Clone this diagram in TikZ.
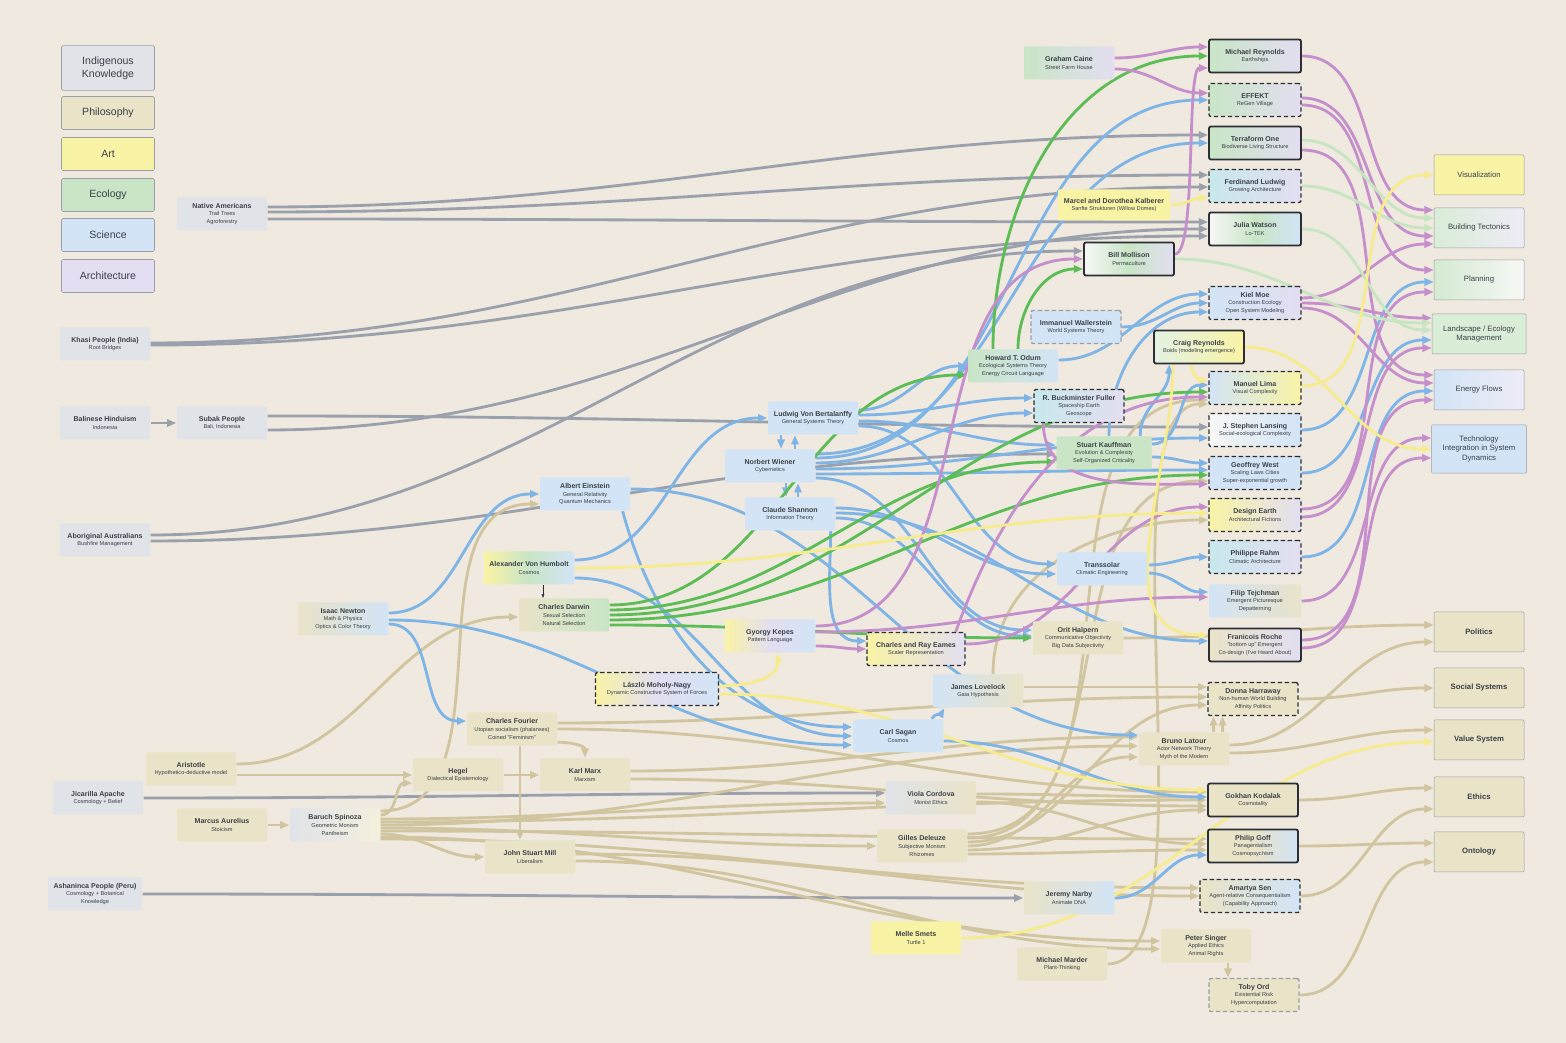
\documentclass[tikz,border=0pt]{standalone}
\usepackage{fontspec}
\setmainfont{Liberation Sans}
\usetikzlibrary{arrows.meta,calc}

\definecolor{paper}{HTML}{EFE9DF}
\definecolor{cind}{HTML}{E0E3E8}
\definecolor{cphil}{HTML}{E9E3C8}
\definecolor{ccream}{HTML}{F4F0DE}
\definecolor{cart}{HTML}{F9F3A5}
\definecolor{ceco}{HTML}{C9E5C6}
\definecolor{csci}{HTML}{D2E4F6}
\definecolor{carch}{HTML}{E3DEF1}
\definecolor{cteal}{HTML}{C8E8EC}
\definecolor{cwhite}{HTML}{F7F7F5}
\definecolor{ctext}{HTML}{3B4048}
\definecolor{cdark}{HTML}{2B2F35}
\definecolor{clegend}{HTML}{9A9EA6}
\definecolor{egrey}{HTML}{9BA1AC}
\definecolor{etan}{HTML}{D1C5A0}
\definecolor{eyel}{HTML}{F6EC8E}
\definecolor{egreen}{HTML}{5CBD56}
\definecolor{eblue}{HTML}{7EB4E6}
\definecolor{epurp}{HTML}{C58FCC}
\definecolor{elgreen}{HTML}{C6E5C0}

\newcommand{\ntitle}[1]{{\fontsize{2.11}{2.42}\selectfont\bfseries #1}}

\pgfdeclarelayer{paperlayer}
\pgfdeclarelayer{edgelayer}
\pgfsetlayers{paperlayer,edgelayer,main}

% 1 unit = 1 px of the reference (0.3pt)
\tikzset{
  box/.style={rectangle, minimum width=27pt, minimum height=9.9pt, inner sep=0.2pt,
    align=center, text=ctext, font=\fontsize{1.69}{2.28}\selectfont, rounded corners=0.3pt},
  ind/.style={box, fill=cind},
  phil/.style={box, fill=cphil},
  art/.style={box, fill=cart},
  eco/.style={box, fill=ceco},
  sci/.style={box, fill=csci},
  solidb/.style={draw=cdark, line width=0.55pt, rounded corners=0.6pt},
  dashb/.style={draw=cdark, line width=0.4pt, dash pattern=on 1.3pt off 0.8pt, rounded corners=0.6pt},
  legend/.style={rectangle, draw=clegend, line width=0.2pt, rounded corners=0.45pt,
    minimum width=27.9pt, minimum height=9.9pt, align=center, text=ctext,
    font=\fontsize{3.16}{3.8}\selectfont},
  goal/.style={rectangle, draw=clegend, line width=0.15pt, rounded corners=0.3pt,
    minimum width=27pt, minimum height=12pt, align=center, text=ctext,
    font=\fontsize{2.32}{2.85}\selectfont},
  pgoal/.style={goal, fill=cphil, font=\fontsize{2.32}{2.85}\selectfont\bfseries},
  conn/.style={-{Triangle[length=2.8pt,width=2.2pt]}, line width=0.85pt, out=0, in=180},
  gy/.style={conn, draw=egrey},
  tn/.style={conn, draw=etan},
  yl/.style={conn, draw=eyel},
  gn/.style={conn, draw=egreen},
  bl/.style={conn, draw=eblue},
  pu/.style={conn, draw=epurp},
  lg/.style={conn, draw=elgreen}
}

\begin{document}
\begin{tikzpicture}[x=0.3pt, y=-0.3pt]
\useasboundingbox (0,0) rectangle (1566,1043);
\begin{pgfonlayer}{paperlayer}
\fill[paper] (0,0) rectangle (1566,1043);
\end{pgfonlayer}

% legend
\node (lgind)  [legend, fill=cind, minimum height=13.2pt] at (108,68) {Indigenous\\Knowledge};
\node (lgphil) [legend, fill=cphil] at (108,113) {Philosophy};
\node (lgart)  [legend, fill=cart] at (108,154) {Art};
\node (lgeco)  [legend, fill=ceco] at (108,195) {Ecology};
\node (lgsci)  [legend, fill=csci] at (108,235) {Science};
\node (lgarch) [legend, fill=carch] at (108,276) {Architecture};

% indigenous knowledge
\node (natam) [ind] at (222,214) {\ntitle{Native Americans}\\Trail Trees\\Agroforestry};
\node (khasi) [ind] at (105,344) {\ntitle{Khasi People (India)}\\Root Bridges};
\node (balin) [ind] at (105,423) {\ntitle{Balinese Hinduism}\\Indonesia};
\node (subak) [ind] at (222,423) {\ntitle{Subak People}\\Bali, Indonesia};
\node (abor) [ind] at (105,540) {\ntitle{Aboriginal Australians}\\Bushfire Management};
\node (jicar) [ind] at (98,798) {\ntitle{Jicarilla Apache}\\Cosmology + Belief};
\node (ashan) [ind, minimum width=28.2pt] at (95,894) {\ntitle{Ashaninca People (Peru)}\\Cosmology + Botanical\\Knowledge};

% philosophy
\node (arist) [phil] at (191,769) {\ntitle{Aristotle}\\Hypothetico-deductive model};
\node (marcus) [phil] at (222,825) {\ntitle{Marcus Aurelius}\\Stoicism};
\node (spin) [box, left color=cind, right color=ccream] at (335,825) {\ntitle{Baruch Spinoza}\\Geometric Monism\\Pantheism};
\node (hegel) [phil] at (458,775) {\ntitle{Hegel}\\Dialectical Epistemology};
\node (marx) [phil] at (585,775) {\ntitle{Karl Marx}\\Marxism};
\node (fourier) [phil] at (512,729) {\ntitle{Charles Fourier}\\Utopian socialism (phalanxes)\\Coined "Feminism"};
\node (mill) [phil] at (530,857) {\ntitle{John Stuart Mill}\\Liberalism};
\node (cordova) [box, left color=cind, right color=cphil] at (931,798) {\ntitle{Viola Cordova}\\Monist Ethics};
\node (deleuze) [phil] at (922,846) {\ntitle{Gilles Deleuze}\\Subjective Monism\\Rhizomes};
\node (lovelock) [box, left color=csci, right color=cphil] at (978,691) {\ntitle{James Lovelock}\\Gaia Hypothesis};
\node (latour) [phil] at (1184,749) {\ntitle{Bruno Latour}\\Actor Network Theory\\Myth of the Modern};
\node (harr) [phil, dashb] at (1253,699) {\ntitle{Donna Harraway}\\Non-human World Building\\Affinity Politics};
\node (kodalak) [phil, solidb] at (1253,800) {\ntitle{Gokhan Kodalak}\\Cosmotality};
\node (goff) [box, solidb, left color=cphil, right color=csci, middle color=cphil] at (1253,846) {\ntitle{Philip Goff}\\Panagentialism\\Cosmopsychism};
\node (sen) [box, dashb, left color=cphil, right color=csci, minimum width=30pt] at (1250,896) {\ntitle{Amartya Sen}\\Agent-relative Consequentialism\\(Capability Approach)};
\node (narby) [box, left color=cphil, right color=csci] at (1069,898) {\ntitle{Jeremy Narby}\\Animate DNA};
\node (singer) [phil] at (1206,946) {\ntitle{Peter Singer}\\Applied Ethics\\Animal Rights};
\node (marder) [phil] at (1062,964) {\ntitle{Michael Marder}\\Plant-Thinking};
\node (ord) [phil, dashb, draw=clegend] at (1254,995) {\ntitle{Toby Ord}\\Existential Risk\\Hypercomputation};
\node (halpern) [phil] at (1078,638) {\ntitle{Orit Halpern}\\Communicative Objectivity\\Big Data Subjectivity};

% art
\node (melle) [art] at (916,938) {\ntitle{Melle Smets}\\Turtle 1};
\node (kalb) [art, minimum width=33.6pt, minimum height=9.3pt] at (1114,205) {\ntitle{Marcel and Dorothea Kalberer}\\Sanfte Strukturen (Willow Domes)};
\node (kepes) [box, left color=cart, right color=csci, middle color=carch] at (770,636) {\ntitle{Gyorgy Kepes}\\Pattern Language};
\node (moholy) [box, dashb, left color=cart, right color=csci, middle color=carch, minimum width=36.9pt] at (657,689) {\ntitle{László Moholy-Nagy}\\Dynamic Constructive System of Forces};
\node (eames) [box, dashb, left color=cart, right color=carch, minimum width=29.4pt] at (916,649) {\ntitle{Charles and Ray Eames}\\Scaler Representation};
\node (humb) [box, left color=cart, right color=csci, middle color=ceco] at (529,568) {\ntitle{Alexander Von Humbolt}\\Cosmos};

% science
\node (newton) [box, left color=cphil, right color=csci] at (343,619) {\ntitle{Isaac Newton}\\Math \& Physics\\Optics \& Color Theory};
\node (einst) [sci] at (585,494) {\ntitle{Albert Einstein}\\General Relativity\\Quantum Mechanics};
\node (bert) [sci] at (813,418) {\ntitle{Ludwig Von Bertalanffy}\\General Systems Theory};
\node (wiener) [sci] at (770,466) {\ntitle{Norbert Wiener}\\Cybernetics};
\node (shannon) [sci] at (790,514) {\ntitle{Claude Shannon}\\Information Theory};
\node (sagan) [sci] at (898,736) {\ntitle{Carl Sagan}\\Cosmos};
\node (transs) [sci] at (1102,569) {\ntitle{Transsolar}\\Climatic Engineering};
\node (waller) [sci, dashb, draw=clegend] at (1076,327) {\ntitle{Immanuel Wallerstein}\\World Systems Theory};
\node (fuller) [box, dashb, left color=cteal, right color=carch] at (1079,406) {\ntitle{R. Buckminster Fuller}\\Spaceship Earth\\Geoscope};

% ecology
\node (darwin) [box, left color=cphil, right color=ceco] at (564,615) {\ntitle{Charles Darwin}\\Sexual Selection\\Natural Selection};
\node (odum) [box, left color=ceco, right color=csci] at (1013,366) {\ntitle{Howard T. Odum}\\Ecological Systems Theory\\Energy Circuit Language};
\node (kauff) [eco, minimum width=28.5pt] at (1104,453) {\ntitle{Stuart Kauffman}\\Evolution \& Complexity\\Self-Organized Criticality};
\node (craig) [box, solidb, left color=ceco!50!white, right color=cart] at (1199,347) {\ntitle{Craig Reynolds}\\Boids (modeling emergence)};
\node (moll) [box, solidb, left color=cwhite, right color=carch, middle color=ceco] at (1129,259) {\ntitle{Bill Mollison}\\Permaculture};
\node (caine) [box, left color=ceco, right color=carch] at (1069,63) {\ntitle{Graham Caine}\\Street Farm House};

% architecture
\node (reyn) [box, solidb, left color=ceco, right color=carch, minimum width=27.6pt] at (1255,56) {\ntitle{Michael Reynolds}\\Earthships};
\node (effekt) [box, dashb, left color=ceco, right color=carch, minimum width=27.6pt] at (1255,100) {\ntitle{EFFEKT}\\ReGen Village};
\node (terra) [box, solidb, left color=ceco, right color=carch, minimum width=27.6pt] at (1255,143) {\ntitle{Terraform One}\\Biodiverse Living Structure};
\node (ludwig) [box, dashb, left color=cteal, right color=carch, minimum width=27.6pt] at (1255,186) {\ntitle{Ferdinand Ludwig}\\Growing Architecture};
\node (watson) [box, solidb, left color=cwhite, right color=csci, middle color=ceco, minimum width=27.6pt] at (1255,229) {\ntitle{Julia Watson}\\Lo-TEK};
\node (kiel) [box, dashb, left color=csci, right color=carch, minimum width=27.6pt] at (1255,303) {\ntitle{Kiel Moe}\\Construction Ecology\\Open System Modeling};
\node (lima) [box, dashb, left color=csci, right color=cart, minimum width=27.6pt] at (1255,388) {\ntitle{Manuel Lima}\\Visual Complexity};
\node (lansing) [box, dashb, left color=cwhite, right color=csci, minimum width=27.6pt] at (1255,430) {\ntitle{J. Stephen Lansing}\\Social-ecological Complexity};
\node (west) [sci, dashb, minimum width=27.6pt] at (1255,473) {\ntitle{Geoffrey West}\\Scaling Laws Cities\\Super-exponential growth};
\node (design) [box, dashb, left color=cart, right color=carch, minimum width=27.6pt] at (1255,515) {\ntitle{Design Earth}\\Architectural Fictions};
\node (rahm) [box, dashb, left color=cteal, right color=carch, minimum width=27.6pt] at (1255,557) {\ntitle{Philippe Rahm}\\Climatic Architecture};
\node (tejch) [box, left color=csci, right color=cphil, minimum width=27.6pt] at (1255,601) {\ntitle{Filip Tejchman}\\Emergent Picturesque\\Depatterning};
\node (roche) [box, solidb, left color=cphil, right color=carch, minimum width=27.6pt] at (1255,645) {\ntitle{Franicois Roche}\\"bottom up" Emergent\\Co-design (I've Heard About)};

% outcomes
\node (visual) [goal, fill=cart] at (1479,175) {Visualization};
\node (bt) [goal, left color=ceco!70!white, right color=carch!60!white] at (1479,228) {Building Tectonics};
\node (plan) [goal, left color=ceco!80!white, right color=cwhite] at (1479,280) {Planning};
\node (land) [goal, fill=ceco!70!white] at (1479,334) {Landscape / Ecology\\Management};
\node (energy) [goal, left color=csci, right color=carch!60!white] at (1479,390) {Energy Flows};
\node (tech) [goal, fill=csci] at (1479,449) {Technology\\Integration in System\\Dynamics};
\node (politics) [pgoal] at (1479,632) {Politics};
\node (social) [pgoal] at (1479,688) {Social Systems};
\node (value) [pgoal] at (1479,740) {Value System};
\node (ethics) [pgoal] at (1479,797) {Ethics};
\node (onto) [pgoal] at (1479,852) {Ontology};

\begin{pgfonlayer}{edgelayer}
% indigenous
\draw[gy] ($(natam.east)+(0,-7)$) to ($(terra.west)+(0,-8)$);
\draw[gy] ($(natam.east)+(0,-2)$) to ($(ludwig.west)+(0,-11)$);
\draw[gy] ($(natam.east)+(0,5)$) to ($(watson.west)+(0,-7)$);
\draw[gy] ($(khasi.east)+(0,-1)$) to ($(ludwig.west)+(0,1)$);
\draw[gy] ($(khasi.east)+(0,1)$) to ($(watson.west)+(0,7)$);
\draw[gy] (balin) -- (subak);
\draw[gy] ($(subak.east)+(0,-7)$) to ($(lansing.west)+(0,-3)$);
\draw[gy] ($(subak.east)+(0,7)$) to (watson.west);
\draw[gy] ($(abor.east)+(0,-5)$) to ($(moll.west)+(0,-8)$);
\draw[gy] ($(abor.east)+(0,1)$) to ($(kauff.west)+(0,1)$);
\draw[gy] (jicar.east) to ($(cordova.west)+(0,-5)$);
\draw[gy] (ashan.east) to (narby.west);

% philosophy
\draw[tn] ($(arist.east)+(0,6)$) to (hegel.west);
\draw[tn] ($(arist.east)+(0,-5)$) to ($(darwin.west)+(0,2)$);
\draw[tn] (marcus) -- (spin);
\draw[tn] ($(spin.east)+(0,-14)$) to ($(einst.west)+(0,10)$);
\draw[tn] ($(spin.east)+(0,-10)$) to ($(hegel.west)+(0,8)$);
\draw[tn] ($(spin.east)+(0,-6)$) to ($(cordova.west)+(0,5)$);
\draw[tn] ($(spin.east)+(0,-3)$) to (kodalak.west);
\draw[tn] (spin.east) to ($(latour.west)+(0,-3)$);
\draw[tn] ($(spin.east)+(0,3)$) to (deleuze.west);
\draw[tn] ($(spin.east)+(0,6)$) to ($(goff.west)+(0,-7)$);
\draw[tn] ($(spin.east)+(0,9)$) to (mill.west);
\draw[tn] ($(spin.east)+(0,12)$) to ($(singer.west)+(0,-5)$);
\draw[tn] ($(spin.east)+(0,14)$) to ($(sen.west)+(0,-8)$);
\draw[tn] ($(fourier.south east)+(0,-4)$) to[out=0,in=90] (marx.north);
\draw[tn] ($(fourier.south)+(8,0)$) -- ($(mill.north)+(-10,0)$);
\draw[tn] ($(fourier.east)+(0,-6)$) to ($(harr.west)+(0,-2)$);
\draw[tn] (fourier.east) to ($(kodalak.west)+(0,-8)$);
\draw[tn] (hegel) -- (marx);
\draw[tn] ($(marx.east)+(0,-4)$) to ($(latour.west)+(0,-12)$);
\draw[tn] ($(marx.east)+(0,4)$) to ($(kodalak.west)+(0,6)$);
\draw[tn] ($(mill.east)+(0,-3)$) to (sen.west);
\draw[tn] ($(mill.east)+(0,4)$) to ($(singer.west)+(0,3)$);
\draw[tn] ($(cordova.east)+(0,-4)$) to ($(kodalak.west)+(0,-3)$);
\draw[tn] ($(cordova.east)+(0,4)$) to ($(goff.west)+(0,-2)$);
\draw[tn] ($(deleuze.east)+(0,-12)$) to ($(lima.west)+(0,12)$);
\draw[tn] ($(deleuze.east)+(0,-8)$) to ($(west.west)+(0,8)$);
\draw[tn] ($(deleuze.east)+(0,-4)$) to ($(harr.west)+(0,6)$);
\draw[tn] (deleuze.east) to ($(latour.west)+(0,8)$);
\draw[tn] ($(deleuze.east)+(0,4)$) to ($(kodalak.west)+(0,10)$);
\draw[tn] ($(deleuze.east)+(0,8)$) to ($(goff.west)+(0,4)$);
\draw[tn] ($(lovelock.east)+(0,-4)$) to ($(harr.west)+(0,-12)$);
\draw[tn] ($(lovelock.north)+(15,0)$) to[out=90,in=180] ($(design.west)+(0,5)$);
\draw[tn] (marder.east) to[out=0,in=180,looseness=0.5] ($(lima.west)+(0,16)$);
\draw[tn] ($(latour.north east)+(-16,0)$) -- ($(harr.south west)+(6,0)$);
\draw[tn] ($(latour.north east)+(-7,0)$) -- ($(harr.south west)+(15,0)$);
\draw[tn] ($(latour.east)+(0,-4)$) to ($(politics.west)+(0,10)$);
\draw[tn] ($(latour.east)+(0,4)$) to ($(value.west)+(0,-10)$);
\draw[tn] (harr.east) to (social.west);
\draw[tn] (halpern.east) to ($(politics.west)+(0,-7)$);
\draw[tn] (kodalak.east) to ($(ethics.west)+(0,-9)$);
\draw[tn] (sen.east) to ($(ethics.west)+(0,12)$);
\draw[tn] (goff.east) to ($(onto.west)+(0,-9)$);
\draw[tn] (ord.east) to ($(onto.west)+(0,10)$);
\draw[tn] ($(singer.south)+(22,0)$) -- ($(ord.north)+(-26,0)$);

% science
\draw[bl] ($(newton.east)+(0,-6)$) to (einst.west);
\draw[bl] ($(newton.east)+(0,1)$) to ($(sagan.west)+(0,9)$);
\draw[bl] ($(newton.east)+(0,5)$) to ($(fourier.west)+(0,-8)$);
\draw[bl] ($(humb.east)+(0,-8)$) to (bert.west);
\draw[bl] ($(humb.east)+(0,10)$) to (sagan.west);
\draw[bl] ($(einst.south east)+(-8,0)$) to[out=-75,in=180] ($(sagan.west)+(0,-9)$);
\draw[bl] ($(einst.east)+(0,-5)$) to ($(latour.west)+(0,-14)$);
\draw[bl] ($(bert.south)+(-32,0)$) -- ($(wiener.north)+(11,0)$);
\draw[bl] ($(wiener.north)+(25,0)$) -- ($(bert.south)+(-18,0)$);
\draw[bl] ($(wiener.south)+(16,0)$) -- ($(shannon.north)+(-4,0)$);
\draw[bl] ($(shannon.north)+(8,0)$) -- ($(wiener.south)+(28,0)$);
\draw[bl] ($(bert.east)+(0,-8)$) to (odum.west);
\draw[bl] ($(bert.east)+(0,-3)$) to ($(fuller.west)+(0,-8)$);
\draw[bl] ($(bert.east)+(0,3)$) to ($(kauff.west)+(0,-8)$);
\draw[bl] ($(bert.east)+(0,8)$) to ($(transs.west)+(0,-5)$);
\draw[bl] ($(wiener.east)+(0,-12)$) to (terra.west);
\draw[bl] ($(wiener.east)+(0,-8)$) to (effekt.west);
\draw[bl] ($(wiener.east)+(0,-3)$) to ($(fuller.west)+(0,7)$);
\draw[bl] ($(wiener.east)+(0,3)$) to ($(lansing.west)+(0,8)$);
\draw[bl] ($(wiener.east)+(0,8)$) to ($(west.west)+(0,-3)$);
\draw[bl] ($(wiener.east)+(0,12)$) to ($(halpern.west)+(0,-8)$);
\draw[bl] ($(shannon.south east)+(-5,0)$) to[out=-90,in=180] ($(eames.west)+(0,-8)$);
\draw[bl] ($(shannon.east)+(0,-6)$) to ($(transs.west)+(0,5)$);
\draw[bl] ($(shannon.east)+(0,-1)$) to ($(roche.west)+(0,-4)$);
\draw[bl] ($(shannon.east)+(0,4)$) to ($(halpern.west)+(0,-2)$);
\draw[bl] ($(odum.east)+(0,-6)$) to ($(kiel.west)+(0,-9)$);
\draw[bl] (waller.east) to (kiel.west);
\draw[bl] ($(kauff.north)+(5,0)$) to[out=90,in=180] ($(kiel.west)+(0,9)$);
\draw[bl] ($(kauff.north east)+(-12,0)$) to[out=90,in=-90] ($(craig.south west)+(16,0)$);
\draw[bl] ($(kauff.east)+(0,-9)$) to ($(lima.west)+(0,-3)$);
\draw[bl] ($(kauff.east)+(0,4)$) to ($(west.west)+(0,-10)$);
\draw[bl] ($(transs.east)+(0,-4)$) to (rahm.west);
\draw[bl] ($(transs.east)+(0,4)$) to ($(tejch.west)+(0,-9)$);
\draw[bl] ($(sagan.north east)+(-12,0)$) to[out=60,in=-120] ($(lovelock.south west)+(12,0)$);
\draw[bl] ($(sagan.east)+(0,5)$) to ($(kodalak.west)+(0,-3)$);
\draw[bl] (narby.east) to ($(goff.west)+(0,9)$);
\draw[bl] (lansing.east) to ($(plan.west)+(0,2)$);
\draw[bl] (west.east) to ($(land.west)+(0,6)$);
\draw[bl] (rahm.east) to ($(energy.west)+(0,1)$);

% ecology
\draw[gn] ($(odum.north)+(-20,0)$) to[out=90,in=180] (reyn.west);
\draw[gn] ($(odum.north)+(5,0)$) to[out=90,in=180] ($(moll.west)+(0,10)$);
\draw[gn] ($(darwin.east)+(0,-10)$) to ($(odum.west)+(0,9)$);
\draw[gn] ($(darwin.east)+(0,-5)$) to ($(kauff.west)+(0,9)$);
\draw[gn] (darwin.east) to ($(lima.west)+(0,4)$);
\draw[gn] ($(darwin.east)+(0,5)$) to ($(west.west)+(0,2)$);
\draw[gn] ($(darwin.east)+(0,10)$) to (halpern.west);

% architecture
\draw[pu] ($(caine.east)+(0,-5)$) to ($(reyn.west)+(0,-9)$);
\draw[pu] ($(caine.east)+(0,6)$) to ($(effekt.west)+(0,-7)$);
\draw[pu] ($(moll.east)+(0,-5)$) to[out=0,in=180,looseness=0.3] ($(reyn.west)+(0,12)$);
\draw[pu] ($(kepes.east)+(0,-10)$) to (moll.west);
\draw[pu] ($(kepes.east)+(0,-4)$) to ($(tejch.west)+(0,-4)$);
\draw[pu] ($(kepes.east)+(0,10)$) to (eames.west);
\draw[pu] ($(eames.north east)+(-10,0)$) to[out=70,in=180] ($(lima.west)+(0,9)$);
\draw[pu] ($(eames.east)+(0,-5)$) to ($(design.west)+(0,-8)$);
\draw[pu] ($(fuller.south west)+(10,0)$) to[out=-90,in=180] ($(west.west)+(0,11)$);
\draw[pu] (reyn.east) to ($(bt.west)+(0,-18)$);
\draw[pu] ($(effekt.east)+(0,-2)$) to ($(bt.west)+(0,8)$);
\draw[pu] ($(effekt.east)+(0,5)$) to ($(plan.west)+(0,-10)$);
\draw[pu] ($(terra.east)+(0,7)$) to ($(energy.west)+(0,-15)$);
\draw[pu] ($(kiel.east)+(0,-5)$) to ($(bt.west)+(0,16)$);
\draw[pu] (kiel.east) to ($(land.west)+(0,-16)$);
\draw[pu] ($(kiel.east)+(0,5)$) to ($(energy.west)+(0,-7)$);
\draw[pu] ($(design.east)+(0,-6)$) to ($(plan.west)+(0,12)$);
\draw[pu] ($(design.east)+(0,2)$) to ($(land.west)+(0,14)$);
\draw[pu] (tejch.east) to ($(tech.west)+(0,-11)$);
\draw[pu] ($(roche.east)+(0,-5)$) to ($(energy.west)+(0,10)$);
\draw[pu] ($(roche.east)+(0,3)$) to ($(tech.west)+(0,9)$);
\draw[lg] ($(terra.east)+(0,-3)$) to ($(bt.west)+(0,-10)$);
\draw[lg] (ludwig.east) to (bt.west);
\draw[lg] (watson.east) to ($(land.west)+(0,-4)$);
\draw[lg] (moll.east) to ($(land.west)+(0,-11)$);

% art
\draw[yl] (humb.east) to ($(design.west)+(0,-2)$);
\draw[yl] ($(moholy.east)+(0,-3)$) to[out=0,in=-90] ($(kepes.south)+(8,0)$);
\draw[yl] ($(moholy.east)+(0,5)$) to ($(kodalak.west)+(0,-10)$);
\draw[yl] (kalb.east) to ($(ludwig.west)+(0,12)$);
\draw[yl] ($(craig.south)+(-8,0)$) to[out=-90,in=180] ($(lima.west)+(0,-8)$);
\draw[yl] ($(craig.south west)+(20,0)$) to[out=-90,in=180] ($(roche.west)+(0,-10)$);
\draw[yl] (craig.east) to (tech.west);
\draw[yl] ($(lima.east)+(0,-2)$) to (visual.west);
\draw[yl] (melle.east) to ($(value.west)+(0,2)$);
\draw[-{Triangle[length=1pt,width=0.8pt]}, line width=0.15pt, draw=cdark] ($(humb.south)+(14,0)$) -- ($(darwin.north)+(-21,0)$);
\end{pgfonlayer}
\end{tikzpicture}
\end{document}
